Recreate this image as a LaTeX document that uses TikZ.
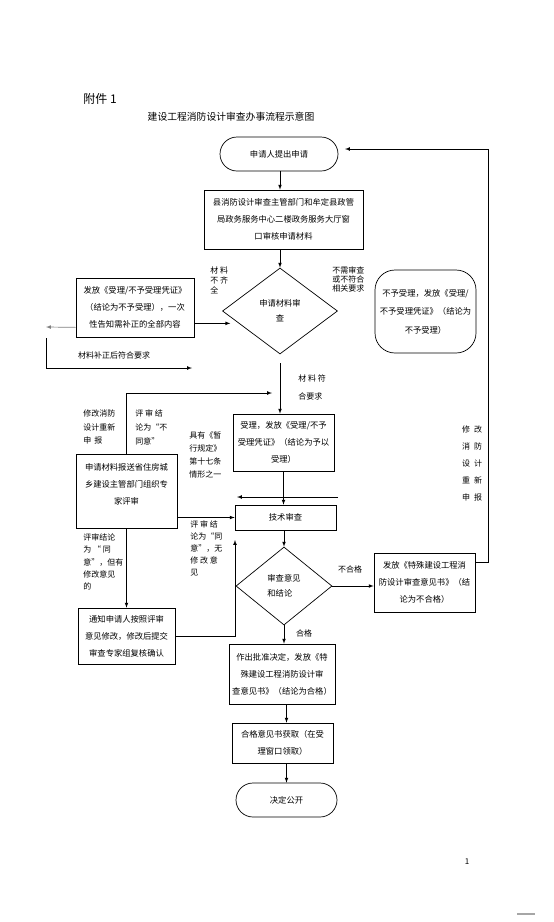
\documentclass[tikz,border=0pt]{standalone}
\usepackage{fontspec}
\setmainfont{Noto Sans CJK SC}
\usetikzlibrary{shapes.geometric}

\begin{document}
\begin{tikzpicture}[x=1pt, y=-1pt, line width=0.7pt,
		box/.style={draw, rectangle, inner sep=0pt, align=center, font=\fontsize{8.3}{17}\selectfont},
		term/.style={box, rounded corners=17pt},
		decide/.style={draw, diamond, inner sep=0pt, align=center, font=\fontsize{8.3}{15}\selectfont},
		note/.style={inner sep=0pt, anchor=west, align=left},
		arr/.style={-latex}]
	\def\noteFont#1{\fontsize{8}{#1}\selectfont};

	\useasboundingbox (0,0) rectangle (554,922);

	\node[font=\fontsize{12}{12}\selectfont] (attach) at (100,99) {附件 1};
	\node[font=\fontsize{9.8}{10}\selectfont] (title) at (231,117) {建设工程消防设计审查办事流程示意图};

	% main column
	\node[term, minimum width=118, minimum height=34] (start) at (279,154) {申请人提出申请};
	\node[box, minimum width=159, minimum height=59] (review) at (283.5,219.5) {县消防设计审查主管部门和牟定县政管\\局政务服务中心二楼政务服务大厅窗\\口审核申请材料};
	\node[decide, minimum width=115, minimum height=86] (check1) at (280,311) {申请材料审\\查};
	\node[box, minimum width=101, minimum height=57] (accept) at (283.5,442.5) {受理，发放《受理/不予\\受理凭证》（结论为予以\\受理）};
	\node[box, minimum width=101, minimum height=25] (tech) at (285.5,517.5) {技术审查};
	\node[decide, align=left, minimum width=96, minimum height=78] (check2) at (284,586) {审查意见\\和结论};
	\node[box, minimum width=106, minimum height=60] (approve) at (282,674) {作出批准决定，发放《特\\殊建设工程消防设计审\\查意见书》（结论为合格）};
	\node[box, minimum width=101, minimum height=40] (obtain) at (282.5,743) {合格意见书获取（在受\\理窗口领取）};
	\node[term, minimum width=101, minimum height=34] (publish) at (286.5,800) {决定公开};

	% side boxes
	\node[box, minimum width=118, minimum height=59] (notice) at (135,307.5) {发放《受理/不予受理凭证》\\（结论为不予受理），一次\\性告知需补正的全部内容};
	\node[box, rounded corners=20pt, minimum width=101, minimum height=83, font=\fontsize{8.3}{18.5}\selectfont] (refuse) at (425.5,311.5) {不予受理，发放《受理/\\不予受理凭证》（结论为\\不予受理）};
	\node[box, minimum width=101, minimum height=74] (expert) at (126.5,491) {申请材料报送省住房城\\乡建设主管部门组织专\\家评审\\[-3pt]{}};
	\node[box, minimum width=97, minimum height=56] (notify) at (126.5,636) {通知申请人按照评审\\意见修改，修改后提交\\审查专家组复核确认};
	\node[box, minimum width=101, minimum height=59] (fail) at (424.5,582.5) {发放《特殊建设工程消\\防设计审查意见书》（结\\论为不合格）};

	% free ends
	\coordinate (backL) at (46,327);
	\coordinate (fixTop) at (46,338);
	\coordinate (fixEnd) at (192,368);
	\coordinate (chkOut) at (280,363);
	\coordinate (accIn) at (272,393);
	\coordinate (strayR) at (338,497);
	\coordinate (strayL) at (237,497);
	\coordinate (techIn) at (235,540);
	\coordinate (loopX) at (488,149);
	\coordinate (startIn) at (345,149);

	% connectors
	\draw[arr] (check1 |- start.south) -- (check1 |- review.north);
	\draw[arr] (check1 |- review.south) -- (check1.north);
	\draw[arr] ([yshift=14pt]notice.south east) -- ++(36,0);
	\draw[arr, gray] ([yshift=10pt]notice.south west) -- (backL);
	\draw[arr] (fixTop) |- (fixEnd);
	\draw[arr] (chkOut) -- (chkOut |- accept.north);
	\draw[arr] (expert.north) |- (accIn);
	\draw[arr] (accept.south) -- (accept.south |- tech.north);
	\draw[arr] (strayR) -- (strayL);
	\draw[arr] (expert.east |- tech.west) -- (tech.west);
	\draw[arr] (check2.north |- tech.south) -- (check2.north);
	\draw[arr] (check2.east) -- (check2.east -| fail.west);
	\draw[arr] ([yshift=-10pt]fail.north east) -| (loopX) -- (startIn);
	\draw[arr] (notify.east) -| (techIn);
	\draw[arr] (expert.south) -- (notify.north);
	\draw[arr] (check2.south) -- (check2.south |- approve.north);
	\draw[arr] (publish |- approve.south) -- (publish |- obtain.north);
	\draw[arr] (publish |- obtain.south) -- (publish.north);

	% labels
	\node[note, font=\noteFont{10}] (lackLbl) at (210,280) {材 料\\不 齐\\全};
	\node[note, font=\noteFont{9}] (noNeedLbl) at (332,279) {不需审查\\或不符合\\相关要求};
	\node[font=\noteFont{10}] (fixLbl) at (114,355) {材料补正后符合要求};
	\node[note, font=\noteFont{18}] (okLbl) at (298,387) {材 料 符\\合要求};
	\node[note, font=\noteFont{13.5}] (redoLbl) at (83,427) {修改消防\\设计重新\\申\, 报};
	\node[note, font=\noteFont{14}] (denyLbl) at (135,427) {评 审 结\\论为“不\\同意”};
	\node[note, font=\noteFont{13}] (ruleLbl) at (189,455) {具有《暂\\行规定》\\第十七条\\情形之一};
	\node[note, font=\noteFont{12}] (agreeLbl) at (190,548) {评 审 结\\论为“同\\意”，无\\修 改 意\\见};
	\node[note, font=\noteFont{12.3}] (modLbl) at (83,562) {评审结论\\为 “ 同\\意”，但有\\修改意见\\的};
	\node[font=\noteFont{10}] (failLbl) at (350,569) {不合格};
	\node[font=\noteFont{17}, align=center] (resubLbl) at (472,463) {修\hspace{4pt}改\\消\hspace{4pt}防\\设\hspace{4pt}计\\重\hspace{4pt}新\\申\hspace{4pt}报};
	\node[font=\noteFont{10}] (passLbl) at (304,633) {合格};

	\node[font=\fontsize{8}{8}\selectfont] (pageNo) at (467,862) {1};
	\draw[gray!70, line width=1.5pt] (517,914) -- (535,914);
\end{tikzpicture}
\end{document}
